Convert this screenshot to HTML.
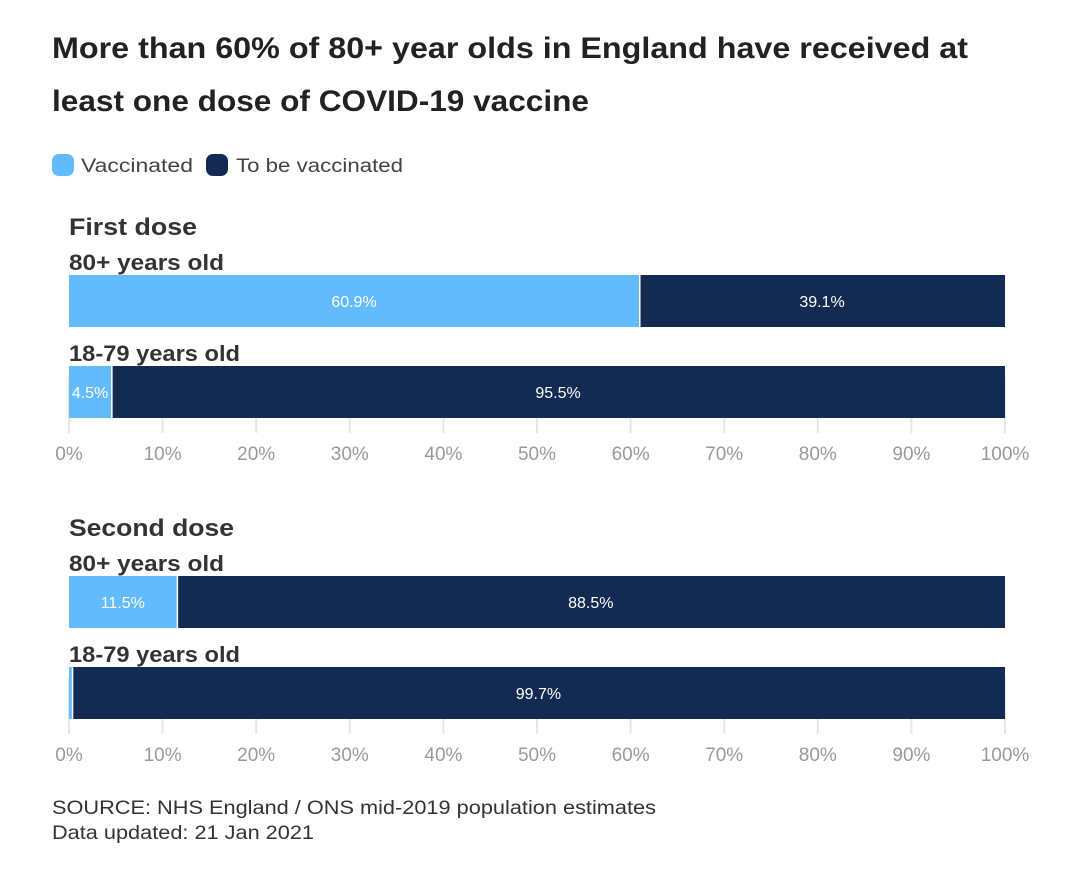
<!DOCTYPE html>
<html><head><meta charset="utf-8"><style>
body{margin:0;background:#fff;width:1080px;height:879px;overflow:hidden;font-family:"Liberation Sans",sans-serif;}
svg text{font-family:"Liberation Sans",sans-serif;}
</style></head><body>
<svg id="c" width="1080" height="879">
<text x="52" y="58" font-size="30" font-weight="bold" fill="#222" textLength="916" lengthAdjust="spacingAndGlyphs">More than 60% of 80+ year olds in England have received at</text>
<text x="52" y="111" font-size="30" font-weight="bold" fill="#222" textLength="537" lengthAdjust="spacingAndGlyphs">least one dose of COVID-19 vaccine</text>
<g>
<rect x="52" y="154" width="22" height="22" rx="7" fill="#62bbfc"/>
<text x="81" y="172" font-size="19" fill="#444" textLength="112" lengthAdjust="spacingAndGlyphs">Vaccinated</text>
<rect x="206" y="154" width="22" height="22" rx="7" fill="#132b52"/>
<text x="236" y="172" font-size="19" fill="#444" textLength="167" lengthAdjust="spacingAndGlyphs">To be vaccinated</text>
</g>
<text x="52" y="814" font-size="19" fill="#333" textLength="604" lengthAdjust="spacingAndGlyphs">SOURCE: NHS England / ONS mid-2019 population estimates</text>
<text x="52" y="839" font-size="19" fill="#333" textLength="262" lengthAdjust="spacingAndGlyphs">Data updated: 21 Jan 2021</text>
</svg>
<script>
const panels = ["First dose", "Second dose"];
const groups = ["80+ years old", "18-79 years old"];
const vaccinated = [[60.9, 4.5], [11.5, 0.3]];
const ticks = [0,10,20,30,40,50,60,70,80,90,100];
const NS="http://www.w3.org/2000/svg";
const svg=document.getElementById('c');
const x0=69,x1=1005;
const xs=v=>x0+(x1-x0)*v/100;
const panelTop=[227,528];
const panelTitleW=[128,165];
const groupW=[155,171];
function mk(tag,attrs,parent){const e=document.createElementNS(NS,tag);for(const k in attrs)e.setAttribute(k,attrs[k]);(parent||svg).appendChild(e);return e;}
panels.forEach((p,pi)=>{
  const top=panelTop[pi];
  const g=mk('g',{});
  
  
  const t=mk('text',{x:69,y:top+8,'font-size':24,'font-weight':'bold',fill:'#333',textLength:panelTitleW[pi],lengthAdjust:'spacingAndGlyphs'},g);
  t.textContent=p;
  
  
  ticks.forEach(tv=>{
    const l=mk('line',{x1:xs(tv),x2:xs(tv),y1:top+150,y2:top+206,stroke:'#e6e6e6','stroke-width':2},g);
    
    
    const tt=mk('text',{x:xs(tv),y:top+233,'font-size':19,fill:'#999','text-anchor':'middle'},g);
    tt.textContent=tv+'%';
    
    
  });
  groups.forEach((gn,gi)=>{
    const by=top+48+gi*91;
    const lab=mk('text',{x:69,y:by-5,'font-size':22,'font-weight':'bold',fill:'#333',textLength:groupW[gi],lengthAdjust:'spacingAndGlyphs'},g);
    lab.textContent=gn;
    
    
    const v=vaccinated[pi][gi], r=+(100-v).toFixed(1);
    const a=mk('rect',{x:xs(0),y:by,width:xs(v)-xs(0),height:52,fill:'#62bbfc'},g);
    
    
    const b=mk('rect',{x:xs(v)+1.5,y:by,width:xs(100)-xs(v)-1.5,height:52,fill:'#132b52'},g);
    
    
    if(v>2){
      const vt=mk('text',{x:(xs(0)+xs(v))/2,y:by+32,'font-size':16,fill:'#fff','text-anchor':'middle'},g);
      vt.textContent=v+'%';
      
      
    }
    const rt=mk('text',{x:(xs(v)+xs(100))/2,y:by+32,'font-size':16,fill:'#fff','text-anchor':'middle'},g);
    rt.textContent=r+'%';
    
    
  });
});
</script>
</body></html>
